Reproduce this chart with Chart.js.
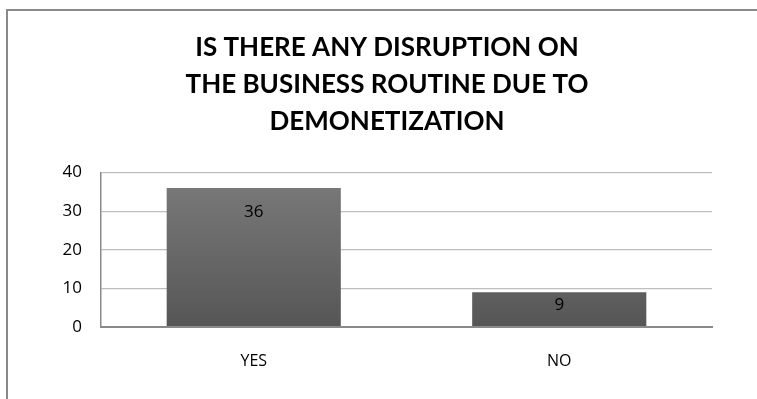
<!DOCTYPE html>
<html>
<head>
<meta charset="utf-8">
<script src="https://cdn.jsdelivr.net/npm/chart.js@4.4.1/dist/chart.umd.min.js"></script>
<style>
    html, body { margin: 0; padding: 0; background: #fff; overflow: hidden; }
    #frame {
        position: absolute; left: 6px; top: 9px;
        width: 820px; height: 460px;
        border: 2px solid #8a8a8a; box-sizing: border-box;
    }
    #wrap { position: absolute; left: 0; top: 0; width: 757px; height: 399px; }
</style>
</head>
<body>
<div id="frame"></div>
<div id="wrap"><canvas id="disruptionChart" width="757" height="399"></canvas></div>
<script>
const categories = ["YES", "NO"];
const responses = [36, 9];
const yTicks = [0, 10, 20, 30, 40];
const titleLines = [
    "IS THERE ANY DISRUPTION ON",
    "THE BUSINESS ROUTINE DUE TO",
    "DEMONETIZATION"
];

const TITLE_FONT = "Lato, 'Open Sans', sans-serif";
const FONT = "'Open Sans', Lato, sans-serif";

// value labels sit just inside the top of each bar
const barLabels = {
    id: "barLabels",
    afterDatasetsDraw(chart) {
        const ctx = chart.ctx;
        const meta = chart.getDatasetMeta(0);
        ctx.save();
        ctx.font = "17px " + FONT;
        ctx.fillStyle = "#000";
        ctx.textAlign = "center";
        ctx.textBaseline = "middle";
        meta.data.forEach((bar, i) => {
            const y = Math.min(bar.y + 24, (bar.y + bar.base) / 2 - 4);
            ctx.fillText(String(responses[i]), bar.x, y);
        });
        ctx.restore();
    }
};

function barGradient(context) {
    const area = context.chart.chartArea;
    if (!area) return "#666";
    const g = context.chart.ctx.createLinearGradient(0, area.top, 0, area.bottom);
    g.addColorStop(0, "#7b7b7b");
    g.addColorStop(1, "#565656");
    return g;
}

new Chart(document.getElementById("disruptionChart"), {
    type: "bar",
    data: {
        labels: categories,
        datasets: [{
            data: responses,
            backgroundColor: barGradient,
            borderWidth: 0,
            categoryPercentage: 1,
            barPercentage: 0.57
        }]
    },
    options: {
        responsive: false,
        animation: false,
        layout: { padding: { left: 62, right: 45, top: 0, bottom: 0 } },
        plugins: {
            legend: { display: false },
            tooltip: { enabled: false },
            title: {
                display: true,
                text: titleLines,
                color: "#000",
                font: { family: TITLE_FONT, size: 26, weight: "bold", lineHeight: 1.43 },
                padding: { top: 29, bottom: 32 }
            }
        },
        scales: {
            x: {
                grid: { display: false, drawTicks: false },
                border: { display: true, color: "#8a8a8a", width: 2 },
                ticks: { color: "#000", font: { family: FONT, size: 16 }, padding: 25 },
                afterFit(scale) { scale.height = 72; }
            },
            y: {
                min: 0,
                max: 40,
                afterBuildTicks(scale) { scale.ticks = yTicks.map(v => ({ value: v })); },
                grid: {
                    drawTicks: false,
                    color: ctx => ctx.tick && ctx.tick.value === 0 ? "#8a8a8a" : "#bebebe",
                    lineWidth: ctx => ctx.tick && ctx.tick.value === 0 ? 2 : 1.3
                },
                border: { display: true, color: "#8a8a8a", width: 1.5 },
                ticks: { color: "#000", font: { family: FONT, size: 17 }, padding: 19 },
                afterFit(scale) { scale.width = 39; }
            }
        }
    },
    plugins: [barLabels]
});
</script>
</body>
</html>
